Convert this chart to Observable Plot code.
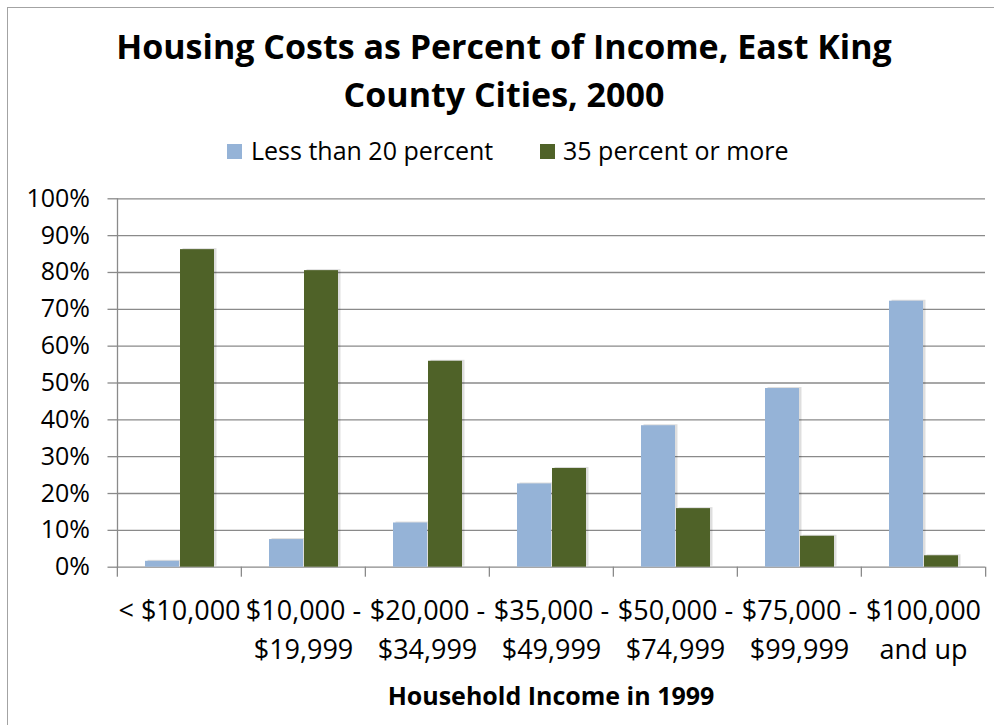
<!DOCTYPE html>
<html>
<head>
<meta charset="utf-8">
<script src="https://cdn.jsdelivr.net/npm/d3@7"></script>
<script src="https://cdn.jsdelivr.net/npm/@observablehq/plot@0.6"></script>
<style>
  html, body { margin: 0; padding: 0; background: #fff; }
  #wrap { position: relative; width: 994px; height: 725px; overflow: hidden; font-family: "Open Sans", sans-serif; color: #000; }
  #wrap svg { position: absolute; left: 0; top: 0; }
  .abs { position: absolute; white-space: nowrap; }
  #border { left: 7px; top: 7px; width: 1100px; height: 1000px; border-left: 1.5px solid #a3a3a3; border-top: 1.5px solid #a3a3a3; }
  #title { left: 0; top: 22px; width: 1008px; text-align: center; font-weight: 700; font-size: 34px; line-height: 48px; }
  .sw { width: 15px; height: 15px; top: 144px; }
  .lt { font-size: 25px; line-height: 25px; top: 138px; }
  #xtitle { left: 116px; width: 870px; top: 683px; text-align: center; font-weight: 700; font-size: 25px; line-height: 25px; }
</style>
</head>
<body>
<div id="wrap">
  <div id="border" class="abs"></div>
</div>
<script>
// ---- data ----
const categories = ["< $10,000", "$10,000 - $19,999", "$20,000 - $34,999", "$35,000 - $49,999", "$50,000 - $74,999", "$75,000 - $99,999", "$100,000 and up"];
const tickLabels = ["< $10,000", "$10,000 -\n$19,999", "$20,000 -\n$34,999", "$35,000 -\n$49,999", "$50,000 -\n$74,999", "$75,000 -\n$99,999", "$100,000\nand up"];
const series = ["Less than 20 percent", "35 percent or more"];
const lessThan20 = [1.6, 7.5, 12.0, 22.6, 38.4, 48.5, 72.2];
const pct35OrMore = [86.2, 80.5, 55.9, 26.8, 15.9, 8.4, 3.1];
const yTicks = [0, 10, 20, 30, 40, 50, 60, 70, 80, 90, 100];
const titleText = "Housing Costs as Percent of Income, East King\nCounty Cities, 2000";
const xTitle = "Household Income in 1999";
const colors = ["#95B3D7", "#4F6228"];

const table = [];
categories.forEach((c, i) => {
  table.push({category: c, series: series[0], value: lessThan20[i]});
  table.push({category: c, series: series[1], value: pct35OrMore[i]});
});

const W = 994, H = 725;
const mL = 116, mR = 8, mT = 198.3, mB = 158.3;
const step = (W - mL - mR) / categories.length;
const gridColor = "#8a8a8a";

const chart = Plot.plot({
  width: W, height: H,
  marginLeft: mL, marginRight: mR, marginTop: mT, marginBottom: mB,
  style: {fontFamily: "Open Sans", background: "transparent", color: "#000"},
  fx: {domain: categories, padding: 0, label: null},
  x: {domain: series, paddingInner: 0.03, paddingOuter: 0.77, axis: null, label: null},
  y: {domain: [0, 100], label: null},
  color: {domain: series, range: colors},
  marks: [
    Plot.gridY(yTicks, {stroke: gridColor, strokeOpacity: 1, strokeWidth: 1.3}),
    Plot.frame({anchor: "left", facetAnchor: "left", stroke: gridColor, strokeWidth: 1.3}),
    Plot.axisY({ticks: yTicks, label: null, tickSize: 9.5, tickPadding: 18, tickFormat: d => d + "%", fontSize: 25, stroke: gridColor, strokeWidth: 1.3, fill: "#000"}),
    Plot.axisFx({anchor: "bottom", label: null, text: null, tickSize: 10, dx: -step / 2, stroke: gridColor, strokeWidth: 1.3}),
    Plot.axisFx({anchor: "bottom", label: null, ticks: [categories[categories.length - 1]], text: null, tickSize: 10, dx: step / 2, stroke: gridColor, strokeWidth: 1.3}),
    Plot.axisFx({anchor: "bottom", label: null, tickSize: 0, tickPadding: 25, fontSize: 27, lineHeight: 1.45,
      tickFormat: d => tickLabels[categories.indexOf(d)], fill: "#000"}),
    Plot.barY(table, {fx: "category", x: "series", y: "value", fill: "#000", fillOpacity: 0.13, dx: 2.5, dy: -1}),
    Plot.barY(table, {fx: "category", x: "series", y: "value", fill: "series"})
  ]
});
const wrap = document.getElementById("wrap");
wrap.appendChild(chart);

// title
const t = document.createElement("div");
t.id = "title"; t.className = "abs";
t.innerHTML = titleText.split("\n").join("<br>");
wrap.appendChild(t);

// legend
const legendPos = [{sw: 227, tx: 251}, {sw: 540, tx: 563}];
series.forEach((s, i) => {
  const sq = document.createElement("div");
  sq.className = "abs sw";
  sq.style.left = legendPos[i].sw + "px";
  sq.style.background = colors[i];
  wrap.appendChild(sq);
  const tx = document.createElement("div");
  tx.className = "abs lt";
  tx.style.left = legendPos[i].tx + "px";
  tx.textContent = s;
  wrap.appendChild(tx);
});

// x axis title
const xt = document.createElement("div");
xt.id = "xtitle"; xt.className = "abs";
xt.textContent = xTitle;
wrap.appendChild(xt);
</script>
</body>
</html>
